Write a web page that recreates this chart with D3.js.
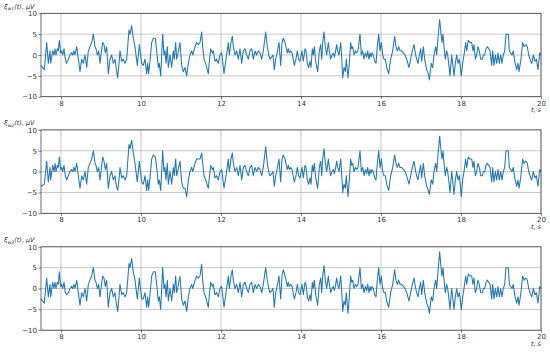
<!DOCTYPE html>
<html>
<head>
<meta charset="utf-8">
<script src="https://cdn.jsdelivr.net/npm/d3@7/dist/d3.min.js"></script>
<style>
  body { margin: 0; background: #fff; }
  svg { display: block; }
</style>
</head>
<body>
<svg id="chart" width="550" height="353"></svg>
<script>
// ---------------- data ----------------
const time = [
  7.5,7.583,7.642,7.683,7.725,7.742,7.792,7.825,7.85,7.875,
  7.908,7.933,7.958,7.992,8.017,8.042,8.075,8.108,8.142,8.183,
  8.225,8.267,8.292,8.325,8.35,8.392,8.433,8.475,8.517,8.558,
  8.6,8.642,8.683,8.725,8.767,8.808,8.85,8.875,8.908,8.942,
  8.975,9.0,9.042,9.075,9.108,9.142,9.183,9.225,9.267,9.308,
  9.35,9.375,9.417,9.45,9.475,9.517,9.558,9.6,9.642,9.7,
  9.725,9.767,9.808,9.85,9.875,9.908,9.933,9.958,10.017,10.058,
  10.1,10.142,10.167,10.192,10.225,10.267,10.308,10.358,10.392,10.433,
  10.458,10.492,10.517,10.542,10.575,10.6,10.625,10.658,10.683,10.725,
  10.767,10.808,10.833,10.867,10.892,10.917,10.975,11.017,11.058,11.1,
  11.142,11.183,11.225,11.267,11.292,11.35,11.392,11.433,11.475,11.517,
  11.542,11.575,11.617,11.683,11.708,11.742,11.783,11.808,11.85,11.892,
  11.933,11.975,12.017,12.075,12.125,12.183,12.208,12.25,12.283,12.308,
  12.35,12.392,12.433,12.475,12.517,12.558,12.6,12.642,12.683,12.725,
  12.767,12.808,12.85,12.892,12.933,12.975,13.017,13.058,13.117,13.158,
  13.192,13.225,13.267,13.3,13.333,13.367,13.392,13.45,13.492,13.525,
  13.558,13.6,13.625,13.658,13.683,13.708,13.742,13.775,13.833,13.875,
  13.908,13.942,13.975,14.025,14.058,14.1,14.125,14.158,14.192,14.225,
  14.25,14.283,14.308,14.333,14.367,14.417,14.458,14.492,14.517,14.542,
  14.575,14.608,14.642,14.683,14.708,14.742,14.775,14.808,14.833,14.858,
  14.892,14.917,14.95,14.992,15.017,15.042,15.075,15.108,15.133,15.175,
  15.208,15.242,15.267,15.292,15.325,15.358,15.392,15.425,15.475,15.508,
  15.542,15.575,15.608,15.642,15.667,15.7,15.725,15.75,15.775,15.808,
  15.842,15.875,15.908,15.942,15.975,16.008,16.042,16.075,16.108,16.142,
  16.192,16.242,16.292,16.342,16.375,16.408,16.442,16.475,16.517,16.558,
  16.6,16.642,16.7,16.742,16.783,16.825,16.867,16.892,16.925,16.958,
  16.992,17.017,17.058,17.092,17.142,17.183,17.208,17.258,17.292,17.325,
  17.367,17.392,17.425,17.467,17.5,17.525,17.55,17.575,17.608,17.642,
  17.667,17.692,17.725,17.767,17.792,17.825,17.858,17.892,17.925,17.958,
  18.008,18.042,18.075,18.117,18.142,18.183,18.225,18.267,18.3,18.325,
  18.358,18.392,18.425,18.458,18.492,18.533,18.558,18.592,18.625,18.658,
  18.692,18.725,18.767,18.792,18.825,18.858,18.892,18.925,18.958,18.992,
  19.025,19.058,19.092,19.125,19.183,19.208,19.242,19.275,19.308,19.342,
  19.392,19.425,19.45,19.492,19.542,19.575,19.625,19.658,19.692,19.725,
  19.767,19.808,19.85,19.883,19.925,19.967,20.0
];

const w1 = [
  -2.5,-3.5,3,-2,1,-2,1,0,1.5,0,
  1.5,1,3.5,0.5,1,0,1.5,-1,-2,-1,
  0,0.5,0,1,0,2,-1,-4,-1,-2,
  0,-3,1,2,3,5,2,1.5,0,1,
  -2,0,3,2.5,0.5,2,-4.5,-1,0,-2,
  -1,-3,-5.5,-2,1,-1.5,-1,-2,-1,6,
  5,7,4,2,0,-2.5,0,2.5,-2,-2.5,
  -1,-4.5,-2,-4.5,-1.5,3,4,4,1,-3,
  -2,-5,0,5,0,1,-2,2,-3,0,
  -3,1,-1,3,-1,0,3,-2.5,-4,-3,
  -5,-2,0,1,0,2,3,2.5,3,5.5,
  2,-1,-2,-4.5,-1.5,1.5,0.5,1,-1.5,-1,
  -2,0,0.5,-4.5,-1,3,0,3,4.5,2,
  0,1,-1,1.5,-2,1,1.5,0,-1,1,
  1.5,-1,1,0,1,0.5,-1,1,5.5,2,
  0,-1,-0.5,0,-3.5,-1,0,3,-2.5,3,
  4,3,2,0.5,1.5,0.5,1,0.5,-2.5,-1,
  1,-1,-1.5,1,-1.5,1.5,1,-2,-3,-1.5,
  -3,1.5,0,2,-1.5,-4,1,2.5,-1,3,
  5.5,2,0,3,1,-1,0,0.5,-0.5,0.5,
  2.5,1,0,3,-0.5,-5.5,-3,-4,-1,-5.5,
  -2,3,1.5,2,0,1,0.5,1,5,0,
  1,-1,0.5,-0.5,1,-1,0.5,-0.5,0.5,0,
  -1.5,-2,2,5,1,3,0,-1,-1,-3,
  -4.5,-1,1,4.5,2,1,2,1,1,0.5,
  0,-1,-3,-1,1,2.5,0,-1,-2,0,
  1.5,-1.5,2,-1,-3.5,-4.5,-6,-2,-3,0,
  2,0,4,8.5,5,3,5,2,-1,1,
  0,-2,-5,0,-2,-5,-2,0,-2,-1,
  -5,-2,0,3,1,3.5,3,3,1,2.5,
  -1,0,2,1,-1,-1,0,0,1.5,2,
  1.5,1,-2.5,1,-2.5,0,-2,0.5,-2,0,
  -2,0,1,5,5,1,0.5,0,1,-1.5,
  -3.5,-2,-4,-1.5,3,2,2.5,2,0,-1,
  -2,0,-1.5,-1,-3.5,0.5,0
];

const w2 = [
  -3.5,-3,2.5,-2.5,1,-2,1.5,0,2,0,
  1.5,1,3.5,0.5,1,0,1.5,-1,-2,-1,
  0,0.5,0,1,0,2,-1,-4,-1,-2,
  0,-3,1,2,3,5,2,1.5,0,1,
  -2,0,3.5,2.5,0.5,2,-4,-1,0,-2,
  -1,-3,-4.5,-2,1,-1.5,-1,-2,-1,6.5,
  5.5,7.5,4.5,2,0,-2.5,0,2.5,-2.5,-3,
  -1,-4.5,-2,-4.5,-1.5,3,4,3.5,1,-3,
  -2,-4.5,0,5,0,1,-2,2,-3,0,
  -3,1,-1,3,-1,0,2.5,-2.5,-4,-4,
  -6,-2,0,1,0,2,3,3,3,4.5,
  2,-1,-2,-4,-1.5,1.5,0.5,1,-1.5,-1,
  -2,0,0.5,-4,-1,3,0,3,4.5,2,
  0,1,-1,1.5,-2,1,1.5,0,-1,1,
  1.5,-1,1,0,1,0.5,-1,1,6,2,
  0,-1,-0.5,0,-3.5,-1,0,3,-2.5,3,
  4,3,2,0.5,1.5,0.5,1,0.5,-2.5,-1,
  1,-1,-1.5,1,-1.5,1.5,1,-2,-3,-1.5,
  -3,1.5,0,2,-1.5,-4,1,2.5,-1,3,
  5.5,2,0,3,1,-1,0,0.5,-0.5,0.5,
  2.5,1,0,3,-0.5,-5,-3,-4,-1,-6,
  -2,3,1.5,2,0,1,0.5,1,5,0,
  1,-1,0.5,-0.5,1,-1,0.5,-0.5,0.5,0,
  -1.5,-2,2,5,1,3,0,-1,-1,-3,
  -4.5,-1,1,4,2,1,2,1,1,0.5,
  0,-1,-3,-1,1,2.5,0,-1,-2,0,
  1.5,-1.5,2,-1,-3.5,-4.5,-5.5,-2,-3,0,
  2,0,4,8.5,5,3,5,2,-1,1,
  0,-2,-5,0,-2,-5.5,-2,0,-2,-1,
  -6,-2,0,3,1,3.5,3,3,1,2.5,
  -1,0,2,1,-1,-1,0,0,1.5,2,
  1.5,1,-2.5,1,-2.5,0,-2,0.5,-2,0,
  -2,0,1,5,5,1,0.5,0,1,-1.5,
  -3.5,-2,-4,-1.5,3,2,2.5,2,0,-1,
  -2,0,-1.5,-1,-3.5,0.5,0
];

const w3 = [
  -2.5,-3.5,2.5,-2,1,-2,1.5,0,1.5,0,
  1.5,1,4,0.5,1,0,1.5,-1,-1.5,-1,
  0,0.5,0,1,0,2,-1,-4,-1,-2,
  0,-3,1,2,3,5,2,1.5,0,1,
  -2,0,3,2.5,0.5,2,-4.5,-1,0,-2,
  -1,-3,-5.5,-2,1,-1.5,-1,-2,-1,6,
  5,7.2,4,2,0,-2.5,0,2.5,-2.5,-2.5,
  -1,-4.5,-2,-4.5,-1.5,3,4,4,1,-3,
  -2,-5,0,5,0,1,-2,2,-3,0,
  -3,1,-1,3,-1,0,3,-2.5,-4,-3,
  -5.5,-2,0,1,0,2,3,2.5,3,5.8,
  2,-1,-2,-4.5,-1.5,1.5,0.5,1,-1.5,-1,
  -2,0,0.5,-4.5,-1,3,0,3,4.5,2,
  0,1,-1,1.5,-2,1,1.5,0,-1,1,
  1.5,-1,1,0,1,0.5,-1,1,5,2,
  0,-1,-0.5,0,-4.5,-1,0,3,-2.5,3,
  4.5,3,2,0.5,1.5,0.5,1,0.5,-2.5,-1,
  1,-1,-1.5,1,-1.5,1.5,1,-2,-3,-1.5,
  -3,1.5,0,2,-1.5,-4,1,2.5,-1,3,
  5.5,2,0,3,1,-1,0,0.5,-0.5,0.5,
  2.5,1,0,3,-0.5,-5.5,-3,-4,-1,-6,
  -2,3,1.5,2,0,1,0.5,1,5,0,
  1,-1,0.5,-0.5,1,-1,0.5,-0.5,0.5,0,
  -1.5,-2,2,5,1,3,0,-1,-1,-3,
  -4.5,-1,1,4.5,2,1,2,1,1,0.5,
  0,-1,-3,-1,1,2.5,0,-1,-2,0,
  1.5,-1.5,2,-1,-3.5,-4.5,-6,-2,-3,0,
  2,0,4,8.8,5,3,5,2,-1,1,
  0,-2,-5,0,-2,-5,-2,0,-2,-1,
  -5,-2,0,3,1,3.5,3,3,1,2.5,
  -1,0,2,1,-1,-1,0,0,1.5,2,
  1.5,1,-2.5,1,-2.5,0,-2,0.5,-2,0,
  -2,0,1,5,5,1,0.5,0,1,-1.5,
  -3.5,-2,-4,-1.5,3,2,2.5,2,0,-1,
  -2,0,-1.5,-1,-3.5,0.5,0
];

const xTicks = [8, 10, 12, 14, 16, 18, 20];
const yTicks = [-10, -5, 0, 5, 10];
const seriesNames = ["w1", "w2", "w3"];
const seriesValues = [w1, w2, w3];

// ---------------- layout ----------------
const svg = d3.select("#chart");
const left = 41, right = 541;
const panelTops = [13.3, 129.9, 246.8];
const panelH = 83.4;
const color = "#1f77b4";
const font = "DejaVu Sans, sans-serif";

const x = d3.scaleLinear().domain([7.5, 20]).range([left, right]);

seriesValues.forEach((vals, i) => {
  const top = panelTops[i];
  const y = d3.scaleLinear().domain([-10, 10]).range([top + panelH, top]);
  const g = svg.append("g");

  // grid
  g.append("g").selectAll("line").data(xTicks).join("line")
    .attr("x1", d => x(d)).attr("x2", d => x(d))
    .attr("y1", top).attr("y2", top + panelH)
    .attr("stroke", "#b0b0b0").attr("stroke-width", 0.7);
  g.append("g").selectAll("line").data(yTicks).join("line")
    .attr("x1", left).attr("x2", right)
    .attr("y1", d => y(d)).attr("y2", d => y(d))
    .attr("stroke", "#b0b0b0").attr("stroke-width", 0.7);

  // line
  const pts = time.map((t, k) => [t, vals[k]]);
  g.append("path")
    .datum(pts)
    .attr("fill", "none")
    .attr("stroke", color)
    .attr("stroke-width", 1.05)
    .attr("stroke-linejoin", "round")
    .attr("d", d3.line().x(d => x(d[0])).y(d => y(d[1])));

  // axes
  const xAxis = d3.axisBottom(x).tickValues(xTicks).tickSize(2.5).tickPadding(1.5)
    .tickFormat(d3.format("d"));
  const yAxis = d3.axisLeft(y).tickValues(yTicks).tickSize(2.5).tickPadding(1.5)
    .tickFormat(d => d < 0 ? "\u2212" + Math.abs(d) : d);

  const gx = g.append("g").attr("transform", `translate(0,${top + panelH})`).call(xAxis);
  const gy = g.append("g").attr("transform", `translate(${left},0)`).call(yAxis);
  [gx, gy].forEach(a => {
    a.select(".domain").remove();
    a.selectAll(".tick line").attr("stroke", "#222").attr("stroke-width", 0.6);
    a.selectAll(".tick text").attr("fill", "#333").style("font-family", font).style("font-size", "7px");
  });

  // frame
  g.append("rect")
    .attr("x", left).attr("y", top)
    .attr("width", right - left).attr("height", panelH)
    .attr("fill", "none").attr("stroke", "#333").attr("stroke-width", 0.7);

  // y label
  const yl = g.append("text")
    .attr("x", 4).attr("y", top - 4.5)
    .style("font-family", font).style("font-size", "6.5px").attr("fill", "#333");
  yl.append("tspan").style("font-style", "italic").text("\u03BE");
  yl.append("tspan").attr("dy", 1.5).style("font-size", "4.5px").style("font-style", "italic").text(seriesNames[i]);
  yl.append("tspan").attr("dy", -1.5).style("font-style", "italic").text("(t)");
  yl.append("tspan").text(", ");
  yl.append("tspan").style("font-style", "italic").text("\u03BCV");

  // x label
  const xl = g.append("text")
    .attr("x", right).attr("y", top + panelH + 15.5)
    .attr("text-anchor", "end")
    .style("font-family", font).style("font-size", "6.5px").attr("fill", "#333");
  xl.append("tspan").style("font-style", "italic").text("t");
  xl.append("tspan").text(", ");
  xl.append("tspan").style("font-style", "italic").text("s");
});
</script>
</body>
</html>
